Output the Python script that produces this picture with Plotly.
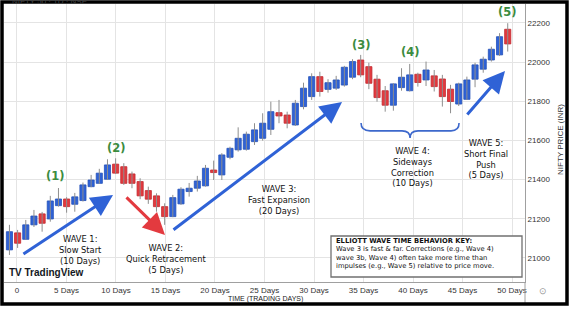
import numpy as np
import plotly.graph_objects as go

# ---------------- data ----------------
OPEN = [21041, 21128, 21095, 21169, 21225, 21199, 21267, 21301, 21274, 21293,
        21364, 21381, 21402, 21479, 21466, 21429, 21390, 21344, 21317, 21262,
        21211, 21276, 21339, 21356, 21368, 21449, 21424, 21514, 21552, 21555,
        21594, 21611, 21657, 21742, 21730, 21679, 21773, 21824, 21926, 21861,
        21867, 21883, 21923, 22011, 21977, 21913, 21854, 21780, 21870, 21854,
        21938, 21909, 21930, 21914, 21862, 21786, 21810, 21913, 21964, 22011,
        22037, 22168]
HIGH = [21169, 21143, 21194, 21245, 21235, 21317, 21357, 21310, 21332, 21385,
        21424, 21455, 21504, 21509, 21484, 21441, 21407, 21364, 21330, 21279,
        21322, 21361, 21383, 21419, 21475, 21497, 21535, 21568, 21667, 21645,
        21688, 21739, 21798, 21807, 21747, 21807, 21895, 21943, 21951, 21913,
        21930, 21981, 22015, 22037, 21997, 21935, 21878, 21892, 21969, 21991,
        21946, 22003, 21960, 21935, 21884, 21895, 21926, 21997, 22028, 22079,
        22148, 22199]
LOW = [21015, 21051, 21092, 21158, 21134, 21185, 21262, 21231, 21236, 21288,
       21361, 21378, 21398, 21429, 21373, 21356, 21300, 21276, 21236, 21169,
       21208, 21271, 21313, 21339, 21364, 21398, 21398, 21504, 21543, 21548,
       21577, 21599, 21628, 21688, 21662, 21674, 21759, 21807, 21824, 21844,
       21858, 21875, 21913, 21923, 21862, 21798, 21747, 21752, 21854, 21850,
       21875, 21878, 21850, 21773, 21739, 21776, 21807, 21872, 21946, 22003,
       22032, 22054]
CLOSE = [21134, 21075, 21169, 21214, 21177, 21291, 21301, 21262, 21312, 21373,
         21398, 21433, 21475, 21433, 21381, 21381, 21317, 21300, 21262, 21211,
         21308, 21351, 21356, 21393, 21458, 21436, 21526, 21560, 21611, 21632,
         21654, 21688, 21747, 21725, 21688, 21790, 21867, 21926, 21850, 21895,
         21909, 21974, 22003, 21935, 21892, 21819, 21780, 21889, 21923, 21935,
         21896, 21960, 21875, 21824, 21799, 21889, 21909, 21986, 22015, 22066,
         22130, 22093]

FIRST_CANDLE_DAY = -0.76
CANDLE_STEP_DAYS = 0.825

X_TICK_VALS = [0, 5, 10, 15, 20, 25, 30, 35, 40, 45, 50]
X_TICK_TEXT = ["0", "5 Days", "10 Days", "15 Days", "20 Days", "25 Days",
               "30 Days", "35 Days", "40 Days", "45 Days", "50 Days"]
Y_TICK_VALS = [21000, 21200, 21400, 21600, 21800, 22000, 22200]
Y_TICK_TEXT = ["21000", "21200", "21400", "21600", "21800", "22000", "22200"]

WAVE_LABELS = ["(1)", "(2)", "(3)", "(4)", "(5)"]
WAVE_LABEL_X = [3.85, 10.1, 34.75, 39.7, 49.5]
WAVE_LABEL_Y = [21419, 21560, 22088, 22052, 22256]

KEY_LINES = ["ELLIOTT WAVE TIME BEHAVIOR KEY:",
             "Wave 3 is fast & far. Corrections (e.g., Wave 4)",
             "wave 3b, Wave 4) often take more time than",
             "impulses (e.g., Wave 5) relative to price move."]

# ---------------- styling ----------------
BLUE = "#2f62d6"
BLUE_EDGE = "#2450b8"
RED = "#e33a3f"
RED_EDGE = "#c02a30"
WICK = "#8e8e8e"
GREEN = "#3b8c3f"
GRID = "#e4e4e4"
AXIS = "#a0a0a0"
TXT = "#111111"
NARROW = "Liberation Sans Narrow, Liberation Sans"

W, H = 573, 312
ML, MR, MT, MB = 4, 48, 4, 30
PW, PH = W - ML - MR, H - MT - MB


def px_x(p):
    return (p - ML) / PW


def px_y(p):
    return (H - MB - p) / PH


n = len(OPEN)
days = FIRST_CANDLE_DAY + CANDLE_STEP_DAYS * np.arange(n)
o = np.array(OPEN)
c = np.array(CLOSE)
up = c >= o

fig = go.Figure()

# wicks
wx, wy = [], []
for d, hi, lo in zip(days, HIGH, LOW):
    wx += [d, d, None]
    wy += [lo, hi, None]
fig.add_trace(go.Scatter(x=wx, y=wy, mode="lines",
                         line=dict(color=WICK, width=1), hoverinfo="skip"))

# bodies
fig.add_trace(go.Bar(
    x=days, y=np.abs(c - o), base=np.minimum(o, c), width=0.62,
    marker=dict(color=[BLUE if u else RED for u in up],
                line=dict(color=[BLUE_EDGE if u else RED_EDGE for u in up], width=0.8)),
    hoverinfo="skip"))

ann = []

# wave number labels
for t, x, y in zip(WAVE_LABELS, WAVE_LABEL_X, WAVE_LABEL_Y):
    ann.append(dict(x=x, y=y, text="<b>%s</b>" % t, showarrow=False,
                    font=dict(family="DejaVu Sans", size=11.5, color=GREEN)))

# wave description blocks
blocks = [
    ("WAVE 1:<br>Slow Start<br>(10 Days)", 6.46, 21043),
    ("WAVE 2:<br>Quick Retracement<br>(5 Days)", 15.05, 20995),
    ("WAVE 3:<br>Fast Expansion<br>(20 Days)", 26.46, 21298),
    ("WAVE 4:<br>Sideways<br>Correction<br>(10 Days)", 39.9, 21465),
    ("WAVE 5:<br>Short Final<br>Push<br>(5 Days)", 47.37, 21506),
]
for t, x, y in blocks:
    ann.append(dict(x=x, y=y, text=t, showarrow=False, align="center",
                    font=dict(family="DejaVu Sans", size=8.3, color=TXT)))

# arrows (tip, tail)
arrows = [
    ((9.70, 21322), (0.50, 21015), BLUE),
    ((14.95, 21117), (10.91, 21317), RED),
    ((32.83, 21797), (15.66, 21138), BLUE),
    ((49.29, 21955), (45.35, 21725), BLUE),
]
for (tx, ty), (sx, sy), col in arrows:
    ann.append(dict(x=tx, y=ty, ax=sx, ay=sy, axref="x", ayref="y", xref="x", yref="y",
                    text="", showarrow=True, arrowhead=2, arrowsize=1.45,
                    arrowwidth=3, arrowcolor=col, standoff=0))

# key box text
key_y_px = [241, 249, 257.5, 266]
for i, (t, yp) in enumerate(zip(KEY_LINES, key_y_px)):
    ann.append(dict(xref="paper", yref="paper", x=px_x(333.5), y=px_y(yp),
                    xanchor="left", yanchor="middle", showarrow=False,
                    text=("<b>%s</b>" % t) if i == 0 else t,
                    font=dict(family="DejaVu Sans", size=6.75, color="#111")))

# TradingView logo
ann.append(dict(xref="paper", yref="paper", x=px_x(7), y=px_y(272),
                xanchor="left", yanchor="middle", showarrow=False,
                text="<b>TV</b> <b>TradingView</b>",
                font=dict(family="Liberation Sans", size=10, color="#131722")))

# axis titles
ann.append(dict(xref="paper", yref="paper", x=px_x(560), y=px_y(140),
                xanchor="center", yanchor="middle",
                textangle=-90, showarrow=False, text="NIFTY PRICE (INR)",
                font=dict(family=NARROW, size=8, color="#333")))
ann.append(dict(xref="paper", yref="paper", x=px_x(265), y=px_y(298.5),
                xanchor="center", yanchor="middle",
                showarrow=False, text="TIME (TRADING DAYS)",
                font=dict(family=NARROW, size=7, color="#222")))
# settings icon
ann.append(dict(xref="paper", yref="paper", x=px_x(543), y=px_y(290),
                xanchor="center", yanchor="middle",
                showarrow=False, text="⊙", font=dict(size=9, color="#999")))
# cropped header
ann.append(dict(xref="paper", yref="paper", x=px_x(10), y=px_y(1),
                xanchor="left", yanchor="middle", showarrow=False,
                text="NIFTY 50 · 1D · NSE",
                font=dict(family="Liberation Sans", size=8, color="#444")))

shapes = [
    # key box
    dict(type="rect", xref="paper", yref="paper", x0=px_x(331), x1=px_x(522),
         y0=px_y(277), y1=px_y(236), line=dict(color="#707070", width=1.3),
         fillcolor="white", layer="above"),
    # brace for wave 4
    dict(type="path", xref="x", yref="y",
         path="M 34.75,21689 Q 34.75,21649 35.66,21649 L 38.89,21649 "
              "Q 39.70,21649 39.70,21613 Q 39.70,21649 40.51,21649 "
              "L 43.84,21649 Q 44.65,21649 44.65,21689",
         line=dict(color="#3d68cc", width=1.6)),
    # right axis extension
    dict(type="line", xref="paper", yref="paper", x0=1, x1=1,
         y0=px_y(303.5), y1=0, line=dict(color=AXIS, width=1)),
    # outer frame
    dict(type="rect", xref="paper", yref="paper", x0=px_x(2), x1=px_x(567),
         y0=px_y(304), y1=px_y(2), line=dict(color="black", width=3.5), layer="above"),
]

fig.update_layout(
    width=W, height=H, margin=dict(l=ML, r=MR, t=MT, b=MB),
    paper_bgcolor="white", plot_bgcolor="white", showlegend=False,
    annotations=ann, shapes=shapes,
    xaxis=dict(range=[-1.31, 51.31], tickvals=X_TICK_VALS, ticktext=X_TICK_TEXT,
               showgrid=True, gridcolor=GRID, gridwidth=1, zeroline=False,
               showline=True, linecolor=AXIS, linewidth=1, ticks="",
               tickfont=dict(family=NARROW, size=8, color="#333")),
    yaxis=dict(range=[20877, 22297], tickvals=Y_TICK_VALS, ticktext=Y_TICK_TEXT,
               side="right",
               showgrid=True, gridcolor=GRID, gridwidth=1, zeroline=False,
               showline=True, linecolor=AXIS, linewidth=1, ticks="",
               tickfont=dict(family=NARROW, size=8, color="#333")),
)

fig.write_html("out.html", config={"displayModeBar": False})
